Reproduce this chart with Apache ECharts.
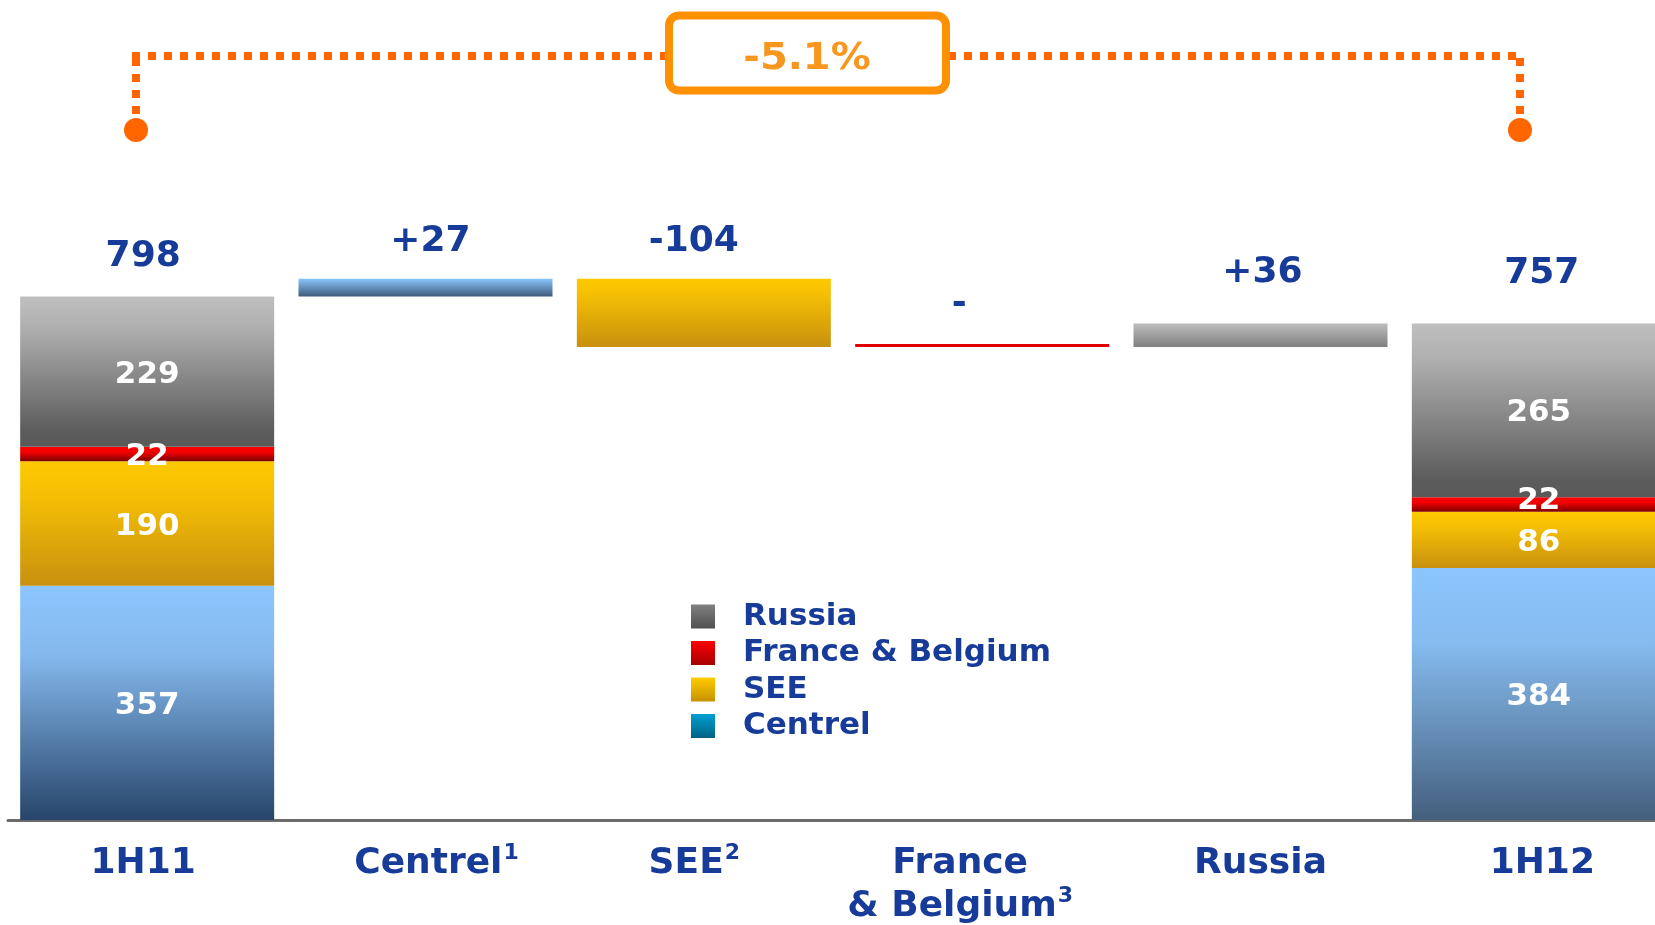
<!DOCTYPE html>
<html>
<head>
<meta charset="utf-8">
<script src="https://cdn.jsdelivr.net/npm/echarts@6/dist/echarts.min.js"></script>
<style>
  html, body { margin: 0; padding: 0; background: #fff; }
  #chart { width: 1655px; height: 925px; }
</style>
</head>
<body>
<div id="chart"></div>
<script>
// categories along the x axis
const categories = ['1H11', 'Centrel¹', 'SEE²', 'France\n& Belgium³', 'Russia', '1H12'];
// regions, stacked bottom -> top
const regions = ['Centrel', 'SEE', 'France & Belgium', 'Russia'];
const start1H11 = [357, 190, 22, 229];
const end1H12 = [384, 86, 22, 265];
// change per region (same order as regions / categories 1..4)
const deltas = [27, -104, 0, 36];
const changeText = '-5.1%';

const BLUE = '#173b98';
const FONT = 'DejaVu Sans';
const grad = (stops) => new echarts.graphic.LinearGradient(0, 0, 0, 1,
  stops.map(c => ({ offset: c[1], color: c[0] })));

// bar colours: [start, delta, end]
const colors = {
  'Centrel': [
    grad([['#8cc6fd', 0], ['#84b8ec', 0.3], ['#27456a', 1]]),
    grad([['#8ac4fb', 0], ['#3f5b7b', 1]]),
    grad([['#8cc6fd', 0], ['#86bbef', 0.3], ['#445f7d', 1]])
  ],
  'SEE': [
    grad([['#fdc900', 0], ['#f6c104', 0.25], ['#c8900f', 1]]),
    grad([['#fdc900', 0], ['#f6c104', 0.2], ['#c8900f', 1]]),
    grad([['#fdc900', 0], ['#f6c104', 0.25], ['#c8900f', 1]])
  ],
  'France & Belgium': [
    grad([['#ff0000', 0], ['#f00000', 0.4], ['#7d0000', 1]]),
    '#e00000',
    grad([['#ff0000', 0], ['#f00000', 0.4], ['#7d0000', 1]])
  ],
  'Russia': [
    grad([['#bfbfbf', 0], ['#b0b0b0', 0.2], ['#5c5c5c', 0.9], ['#595959', 1]]),
    grad([['#bebebe', 0], ['#7f7f7f', 1]]),
    grad([['#bfbfbf', 0], ['#b0b0b0', 0.2], ['#5c5c5c', 0.9], ['#595959', 1]])
  ]
};
const legendColors = {
  'Russia': grad([['#808080', 0], ['#505050', 1]]),
  'France & Belgium': grad([['#ff0000', 0], ['#a50000', 1]]),
  'SEE': grad([['#ffcc00', 0], ['#c69200', 1]]),
  'Centrel': grad([['#00a0d2', 0], ['#006384', 1]])
};

// waterfall bases
const startTotal = start1H11.reduce((a, b) => a + b, 0);
const endTotal = end1H12.reduce((a, b) => a + b, 0);
const base = [0];
const tops = [startTotal];
let level = startTotal;
deltas.forEach(d => {
  if (d >= 0) { base.push(level); level += d; tops.push(level); }
  else { tops.push(level); level += d; base.push(level); }
});
base.push(0);
tops.push(endTotal);
const topTexts = [String(startTotal)]
  .concat(deltas.map(d => d > 0 ? '+' + d : (d < 0 ? String(d) : '-')))
  .concat([String(endTotal)]);
const topDist = [21, 19, 19, 24, 32, 31];
const topShift = [-4, 5, -10, -23, 2, 3];
const catPad = [[0, 8, 0, 0], [0, 0, 0, 22], [0, 19, 0, 0], [0, 44, 0, 0], [0, 0, 0, 0], [0, 0, 0, 7]];

const segLabel = { show: true, position: 'inside', offset: [0, 3], color: '#fff', fontFamily: FONT, fontWeight: 'bold', fontSize: 31 };

const regionSeries = regions.map((name, r) => {
  const data = categories.map(() => '-');
  data[0] = { value: start1H11[r], itemStyle: { color: colors[name][0] }, label: segLabel };
  data[1 + r] = { value: Math.abs(deltas[r]), itemStyle: { color: colors[name][1] } };
  const endLabel = name === 'France & Belgium' ? Object.assign({}, segLabel, { offset: [0, -4] }) : segLabel;
  data[5] = { value: end1H12[r], itemStyle: { color: colors[name][2] }, label: endLabel };
  return {
    name: name,
    type: 'bar',
    stack: 'wf',
    barWidth: 254,
    barMinHeight: name === 'France & Belgium' ? 3 : 0,
    itemStyle: { color: legendColors[name] },
    label: { show: false },
    silent: true,
    data: data
  };
});

const supMap = { '¹': '1', '²': '2', '³': '3' };
const labelFmt = (v) => v.split('\n').map(line =>
  line.replace(/[¹²³]/g, m => '{sup|' + supMap[m] + '}')
).join('\n');

const chart = echarts.init(document.getElementById('chart'));
chart.setOption({
  animation: false,
  backgroundColor: '#fff',
  grid: { left: 8, right: -23, top: 164, bottom: 105, outerBoundsMode: 'none' },
  xAxis: {
    type: 'category',
    data: categories.map((c, i) => ({ value: c, textStyle: { padding: catPad[i] } })),
    axisLine: { show: true, lineStyle: { color: '#6b6b6b', width: 3 } },
    axisTick: { show: false },
    axisLabel: {
      color: BLUE, fontFamily: FONT, fontWeight: 'bold', fontSize: 36,
      lineHeight: 43, margin: 22, interval: 0,
      formatter: labelFmt,
      rich: {
        sup: { color: BLUE, fontFamily: FONT, fontWeight: 'bold', fontSize: 22, lineHeight: 43, verticalAlign: 'top', padding: [0, 0, 14, 1] }
      }
    }
  },
  yAxis: { type: 'value', min: 0, max: 1000, show: false, splitLine: { show: false } },
  legend: {
    orient: 'vertical',
    left: 691,
    top: 601,
    padding: 0,
    itemWidth: 24,
    itemHeight: 24,
    itemGap: 5.5,
    icon: 'rect',
    selectedMode: false,
    textStyle: {
      color: BLUE, fontFamily: FONT, fontWeight: 'bold', fontSize: 31,
      lineHeight: 31, padding: [0, 0, 0, 23]
    },
    data: ['Russia', 'France & Belgium', 'SEE', 'Centrel'].map(n => ({ name: n, itemStyle: { color: legendColors[n] } }))
  },
  series: [
    {
      name: 'base', type: 'bar', stack: 'wf', barWidth: 254, silent: true,
      itemStyle: { color: 'transparent' }, data: base
    }
  ].concat(regionSeries).concat([
    {
      name: 'totals', type: 'scatter', symbolSize: 1, silent: true, z: 5,
      itemStyle: { color: 'rgba(0,0,0,0)', opacity: 1 },
      data: tops.map((v, i) => ({
        value: v,
        label: {
          show: true, position: 'top', distance: topDist[i], offset: [topShift[i], 0],
          formatter: topTexts[i],
          color: BLUE, fontFamily: FONT, fontWeight: 'bold', fontSize: 36, lineHeight: 36
        }
      }))
    }
  ]),
  graphic: [
    { type: 'line', shape: { x1: 132, y1: 56, x2: 1524, y2: 56 },
      style: { stroke: '#ff6600', lineWidth: 8, lineDash: [8, 8] } },
    { type: 'line', shape: { x1: 136, y1: 58, x2: 136, y2: 116 },
      style: { stroke: '#ff6600', lineWidth: 8, lineDash: [8, 8] } },
    { type: 'line', shape: { x1: 1520, y1: 58, x2: 1520, y2: 116 },
      style: { stroke: '#ff6600', lineWidth: 8, lineDash: [8, 8] } },
    { type: 'circle', shape: { cx: 136, cy: 130, r: 12 }, style: { fill: '#ff6600' } },
    { type: 'circle', shape: { cx: 1520, cy: 130, r: 12 }, style: { fill: '#ff6600' } },
    { type: 'rect', shape: { x: 669, y: 15.5, width: 277, height: 75, r: 10 },
      style: { fill: '#fff', stroke: '#ff9000', lineWidth: 8 } },
    { type: 'text', x: 807, y: 59, scaleX: 1.08,
      style: { text: changeText, fill: '#f8961e', font: 'bold 37px "DejaVu Sans"', align: 'center', verticalAlign: 'middle' } }
  ]
});
</script>
</body>
</html>
